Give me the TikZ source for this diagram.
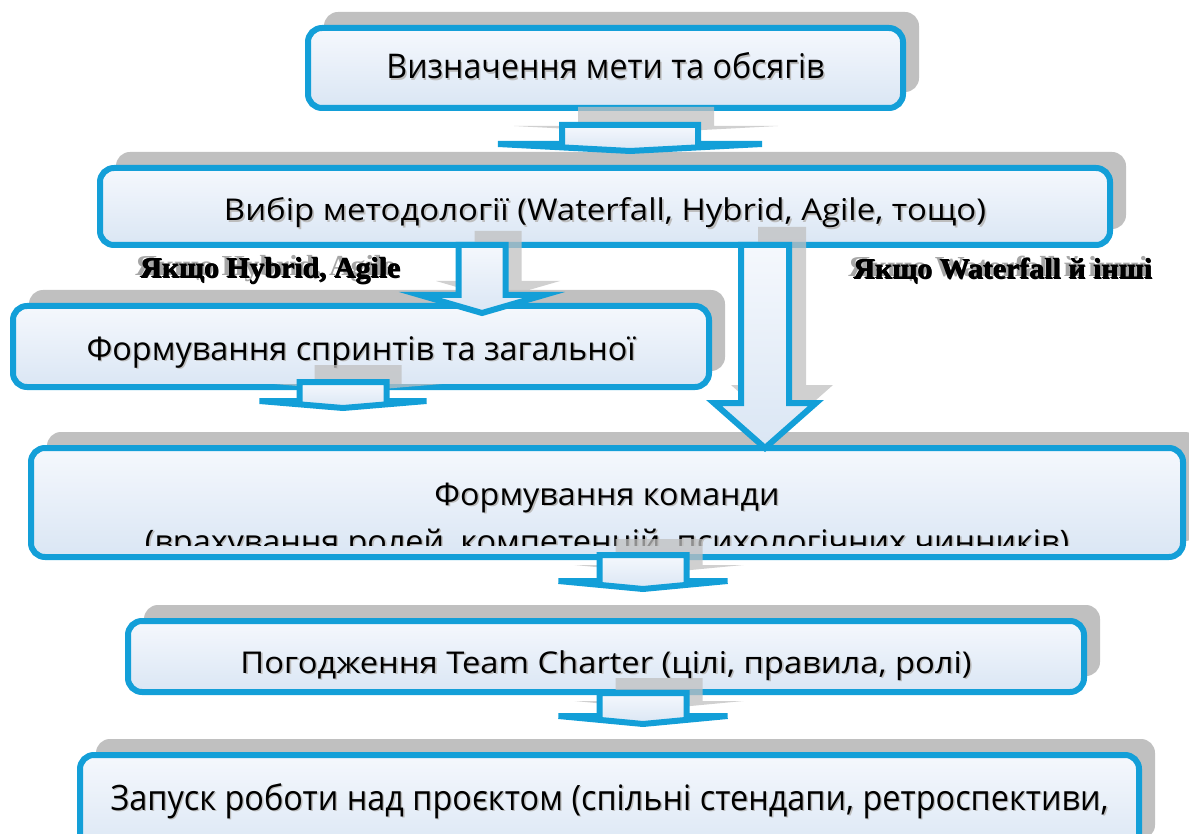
\documentclass[tikz,border=0pt]{standalone}
\usepackage{fontspec}
\setmainfont{Open Sans}
\newfontfamily\condfont{Liberation Serif}
\usetikzlibrary{calc,shadows}

\definecolor{boxblue}{HTML}{139FD8}
\definecolor{filltop}{HTML}{F5F8FD}
\definecolor{fillbot}{HTML}{DAE6F4}
\definecolor{shadegray}{HTML}{C0C0C0}
\definecolor{textshade}{HTML}{BDBDBD}

\newcommand\shtext[1]{\rlap{\kern1.5pt\raisebox{-1.5pt}{\textcolor{textshade}{#1}}}#1}
\newcommand\fitw[2]{\resizebox{#1}{\height}{\shtext{#2}}}
\newcommand\artlabel[2]{\resizebox{#1}{\height}{\rlap{\kern-4.5pt\raisebox{2pt}{\textcolor{gray!70}{#2}}}\rlap{\kern1pt\raisebox{-.6pt}{#2}}\rlap{\kern.5pt{#2}}#2}}

\tikzset{
  stage/.style={draw=boxblue, line width=6pt, rounded corners=14pt,
    top color=filltop, bottom color=fillbot, inner sep=0pt, text depth=0pt,
    drop shadow={shadow xshift=16pt, shadow yshift=16pt, fill=shadegray, opacity=1}},
  flow/.style={draw=boxblue, line width=6pt, top color=filltop, bottom color=fillbot},
  flowshade/.style={fill=shadegray, opacity=.75},
  cond/.style={anchor=base, inner sep=0pt, font=\condfont\bfseries\fontsize{29}{32}\selectfont},
}

\begin{document}
\begin{tikzpicture}[x=1pt,y=-1pt]
\useasboundingbox (0,0) rectangle (1189,834);
\node (vyz) at (605.5,68) [stage, minimum width=595pt, minimum height=80pt, text height=22pt]
  {\fontsize{34}{40}\selectfont\fitw{438pt}{Визначення мети та обсягів}};
\node (vybir) at (605,206.5) [stage, minimum width=1010pt, minimum height=77pt, text height=29pt]
  {\fontsize{30}{36}\selectfont\fitw{762pt}{Вибір методології (Waterfall, Hybrid, Agile, тощо)}};
\node (sprint) at (361,346.5) [stage, minimum width=696pt, minimum height=81pt, text height=27pt]
  {\fontsize{32.5}{38}\selectfont\fitw{549pt}{Формування спринтів та загальної}};
\node (komanda) at (607,502.5) [stage, minimum width=1152pt, minimum height=109pt] {};
\begin{scope}
  \clip (31,448) rectangle (1183,545);
  \node (kom1) at (607,505) [anchor=base, inner sep=0pt]
    {\fontsize{31}{36}\selectfont\fitw{345pt}{Формування команди}};
  \node (kom2) at (607,552) [anchor=base, inner sep=0pt]
    {\fontsize{31}{36}\selectfont\fitw{924pt}{(врахування ролей, компетенцій, психологічних чинників)}};
\end{scope}
\node (charter) at (606,656.5) [stage, minimum width=956pt, minimum height=71pt, text height=33pt]
  {\fontsize{30}{36}\selectfont\fitw{731pt}{Погодження Team Charter (цілі, правила, ролі)}};
\node (zapusk) at (609.5,805) [stage, minimum width=1059pt, minimum height=100pt, text height=10pt]
  {\fontsize{35}{40}\selectfont\fitw{998pt}{Запуск роботи над проєктом (спільні стендапи, ретроспективи,}};

\coordinate (top1) at (630,125); \coordinate (tip1) at (630,151);
\coordinate (top2) at (482,245); \coordinate (tip2) at (482,313);
\coordinate (top3) at (765,245); \coordinate (tip3) at (765,448);
\coordinate (top4) at (343,382); \coordinate (tip4) at (343,408);
\coordinate (top5) at (643,555); \coordinate (tip5) at (643,589);
\coordinate (top6) at (643,693); \coordinate (tip6) at (643,724);

\foreach \i/\w/\W/\h/\dx/\dy in {1/68/132/7/16/18, 2/23.5/62/18/16/14, 3/24/51/45/17/18,
    4/43.5/83.5/7/15/17, 5/43.5/84.5/8/16/16, 6/43.5/84.5/8/16/15} {
  \begin{scope}[transform canvas={shift={(\dx,-\dy)}}]
    \fill[flowshade] ($(top\i)+(-\w,0)$) -- ($(tip\i)+(-\w,-\h)$) -- ($(tip\i)+(-\W,-\h)$) -- (tip\i)
      -- ($(tip\i)+(\W,-\h)$) -- ($(tip\i)+(\w,-\h)$) -- ($(top\i)+(\w,0)$) -- cycle;
  \end{scope}
}
\foreach \i/\w/\W/\h in {1/68/132/7, 2/23.5/62/18, 3/24/51/45, 4/43.5/83.5/7, 5/43.5/84.5/8, 6/43.5/84.5/8}
  \draw[flow] ($(top\i)+(-\w,0)$) -- ($(tip\i)+(-\w,-\h)$) -- ($(tip\i)+(-\W,-\h)$) -- (tip\i)
    -- ($(tip\i)+(\W,-\h)$) -- ($(tip\i)+(\w,-\h)$) -- ($(top\i)+(\w,0)$) -- cycle;

\node (agile) at (270,278) [cond] {\artlabel{260pt}{Якщо Hybrid, Agile}};
\node (waterfall) at (1002.5,279) [cond] {\artlabel{299pt}{Якщо Waterfall й інші}};
\end{tikzpicture}
\end{document}
